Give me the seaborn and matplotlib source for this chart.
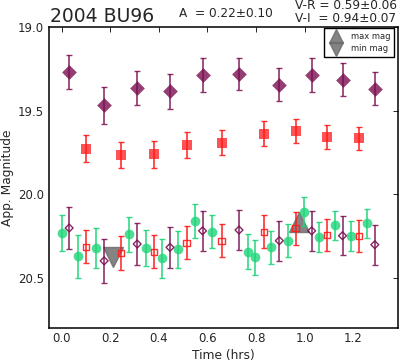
import matplotlib
matplotlib.use('Agg')
import matplotlib.pyplot as plt
from matplotlib.lines import Line2D
import pandas as pd
import seaborn as sns

# V band, filled diamonds (upper row) and shifted copy (open diamonds)
t_v = [0.031, 0.175, 0.311, 0.446, 0.580, 0.730, 0.896, 1.029, 1.156, 1.289]
mag_v = [19.267, 19.468, 19.364, 19.384, 19.285, 19.280, 19.344, 19.285, 19.314, 19.368]
err_v = [0.102, 0.112, 0.103, 0.103, 0.100, 0.098, 0.100, 0.100, 0.100, 0.098]
mag_v_shift = [20.203, 20.400, 20.299, 20.319, 20.220, 20.215, 20.279, 20.220, 20.249, 20.303]
err_v_shift = [0.125, 0.130, 0.125, 0.123, 0.120, 0.118, 0.121, 0.118, 0.118, 0.120]

# R band, filled squares and shifted copy (open squares)
t_r = [0.100, 0.243, 0.380, 0.514, 0.658, 0.833, 0.963, 1.092, 1.225]
mag_r = [19.728, 19.766, 19.762, 19.706, 19.692, 19.638, 19.619, 19.656, 19.666]
err_r = [0.080, 0.078, 0.079, 0.079, 0.075, 0.076, 0.072, 0.072, 0.070]
mag_r_shift = [20.315, 20.353, 20.345, 20.291, 20.279, 20.225, 20.205, 20.243, 20.253]
err_r_shift = [0.100, 0.100, 0.100, 0.100, 0.100, 0.100, 0.098, 0.097, 0.096]

# I band, green circles
t_i = [0.000, 0.066, 0.140, 0.278, 0.347, 0.413, 0.477, 0.547, 0.620,
       0.765, 0.797, 0.863, 0.930, 0.996, 1.059, 1.125, 1.191, 1.257]
mag_i = [20.233, 20.372, 20.323, 20.239, 20.323, 20.385, 20.331, 20.160, 20.225,
         20.345, 20.377, 20.319, 20.279, 20.104, 20.255, 20.186, 20.249, 20.175]
err_i = [0.110, 0.130, 0.120, 0.105, 0.110, 0.117, 0.110, 0.100, 0.100,
         0.105, 0.105, 0.100, 0.100, 0.085, 0.090, 0.088, 0.090, 0.088]

# light curve extrema
t_max, mag_max = 0.977, 20.165
t_min, mag_min = 0.210, 20.377

purple = '#7a0e50'
red = '#ff1a1a'
green = '#1fd47a'
grey = '#6e6e6e'

sns.set_style('white')
plt.rcParams['font.family'] = ['DejaVu Sans']
plt.rcParams['xtick.direction'] = 'in'
plt.rcParams['ytick.direction'] = 'in'

fig = plt.figure(figsize=(4.0, 3.62), dpi=100)
ax = fig.add_axes([0.1225, 0.095, 0.8735, 0.8295])

# extrema triangles go underneath
ax.plot([t_max], [mag_max], marker='^', ms=15, color=grey, alpha=0.85, ls='none', zorder=1)
ax.plot([t_min], [mag_min], marker='v', ms=15, color=grey, alpha=0.85, ls='none', zorder=1)

eb = dict(fmt='none', capsize=2.5, elinewidth=1.2, capthick=1.0, zorder=2)
ax.errorbar(t_v, mag_v, yerr=err_v, ecolor=purple, alpha=0.85, **eb)
ax.errorbar(t_r, mag_r, yerr=err_r, ecolor=red, alpha=0.9, **eb)
ax.errorbar(t_i, mag_i, yerr=err_i, ecolor=green, alpha=0.9, **eb)
ax.errorbar(t_v, mag_v_shift, yerr=err_v_shift, ecolor=purple, alpha=0.85, **eb)
ax.errorbar(t_r, mag_r_shift, yerr=err_r_shift, ecolor=red, alpha=0.9, **eb)

df_v = pd.DataFrame({'t': t_v, 'mag': mag_v, 'shift': mag_v_shift})
df_r = pd.DataFrame({'t': t_r, 'mag': mag_r, 'shift': mag_r_shift})
df_i = pd.DataFrame({'t': t_i, 'mag': mag_i})

sns.scatterplot(data=df_v, x='t', y='mag', marker='D', s=7.5**2, color=purple,
                alpha=0.8, linewidth=0, ax=ax, zorder=3)
sns.scatterplot(data=df_r, x='t', y='mag', marker='s', s=6.5**2, color=red,
                alpha=0.75, linewidth=0, ax=ax, zorder=3)
sns.scatterplot(data=df_i, x='t', y='mag', marker='o', s=7**2, color=green,
                alpha=0.8, linewidth=0, ax=ax, zorder=3)
sns.scatterplot(data=df_v, x='t', y='shift', marker='D', s=4**2, facecolor='none',
                edgecolor=purple, linewidth=1.0, alpha=0.9, ax=ax, zorder=4)
sns.scatterplot(data=df_r, x='t', y='shift', marker='s', s=4.5**2, facecolor='none',
                edgecolor=red, linewidth=1.0, alpha=0.9, ax=ax, zorder=4)

ax.set_xlim(-0.052, 1.386)
ax.set_ylim(20.8, 19.0)
ax.set_xticks([0.0, 0.2, 0.4, 0.6, 0.8, 1.0, 1.2])
ax.set_yticks([19.0, 19.5, 20.0, 20.5])
ax.set_xticklabels(['0.0', '0.2', '0.4', '0.6', '0.8', '1.0', '1.2'])
ax.set_yticklabels(['19.0', '19.5', '20.0', '20.5'])
ax.tick_params(which='both', direction='in', top=True, right=True,
               length=3.5, width=0.6, labelsize=8.5, pad=3.5, color='black')
for sp in ax.spines.values():
    sp.set_linewidth(1.1)
    sp.set_color('black')

ax.set_xlabel('Time (hrs)', fontsize=8.8, labelpad=2.5)
ax.set_ylabel('App. Magnitude', fontsize=8.8, labelpad=3)

handles = [Line2D([], [], marker='^', ms=10.5, color=grey, alpha=0.85, ls='none'),
           Line2D([], [], marker='v', ms=10.5, color=grey, alpha=0.85, ls='none')]
leg = ax.legend(handles, ['max mag', 'min mag'], loc='upper right', fontsize=6,
                bbox_to_anchor=(0.988, 0.998), borderaxespad=0.0, fancybox=False,
                framealpha=1, edgecolor='black', numpoints=1, labelspacing=0.45,
                borderpad=0.45)
leg.get_frame().set_linewidth(1.0)

fig.text(0.125, 0.939, '2004 BU96', fontsize=13.5, va='baseline', ha='left')
fig.text(0.4475, 0.953, 'A  = 0.22\u00b10.10', fontsize=8.7, va='baseline', ha='left')
fig.text(0.7375, 0.975, 'V-R = 0.59\u00b10.06', fontsize=8.7, va='baseline', ha='left')
fig.text(0.7375, 0.939, 'V-I  = 0.94\u00b10.07', fontsize=8.7, va='baseline', ha='left')

fig.savefig('out.png', dpi=100)
